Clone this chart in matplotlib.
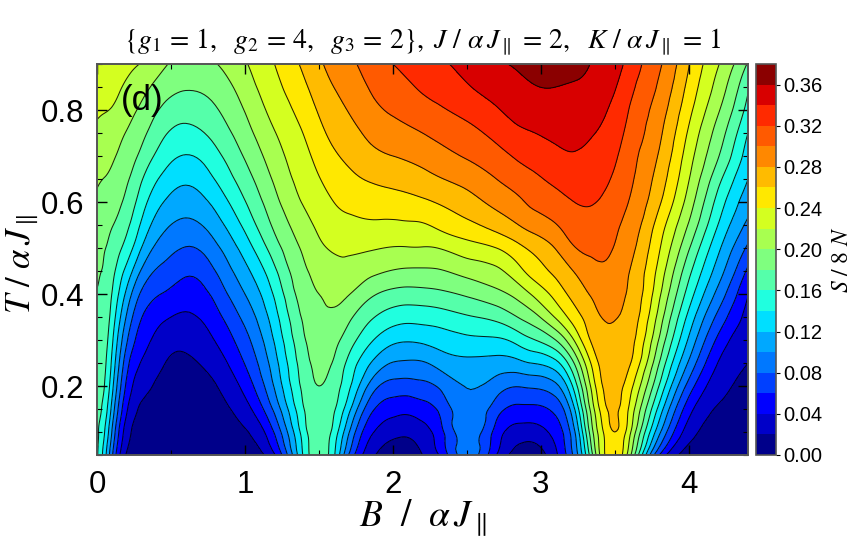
#!/usr/bin/env python
import numpy as np
import matplotlib
matplotlib.use('Agg')
import matplotlib.pyplot as plt
import matplotlib.tri as mtri
from matplotlib.colors import ListedColormap

b_vals = [0, 0.05, 0.1, 0.15, 0.2, 0.3, 0.45, 0.6, 0.8, 1.0, 1.2, 1.4, 1.5, 1.6, 1.7, 1.85, 2.0,
          2.1, 2.2, 2.3, 2.5, 2.7, 2.85, 2.93, 3.1, 3.25, 3.35, 3.42, 3.5, 3.6, 3.8, 4.0, 4.2, 4.4]
t_vals = [0.05, 0.1, 0.15, 0.2, 0.25, 0.3, 0.35, 0.4, 0.45, 0.5, 0.55, 0.6, 0.65, 0.7, 0.75, 0.8, 0.85, 0.9]
# one row per entry of b_vals
s_cols = [
    [.162, .163, .165, .167, .170, .173, .176, .179, .183, .188, .192, .197, .202, .209, .216, .223, .228, .233],
    [.130, .141, .152, .160, .164, .168, .172, .175, .178, .181, .186, .192, .1995, .206, .214, .221, .227, .232],
    [.085, .100, .115, .128, .137, .145, .153, .160, .168, .175, .181, .189, .196, .203, .211, .219, .226, .230],
    [.043, .058, .074, .088, .100, .112, .125, .138, .150, .164, .175, .183, .190, .197, .205, .214, .222, .228],
    [.018, .030, .043, .056, .068, .083, .098, .115, .134, .152, .165, .175, .183, .191, .199, .208, .217, .225],
    [.004, .009, .017, .028, .039, .050, .061, .077, .098, .120, .137, .150, .162, .175, .186, .196, .207, .219],
    [.001, .003, .008, .014, .021, .030, .043, .059, .074, .090, .105, .120, .135, .150, .163, .176, .190, .203],
    [.0005, .002, .006, .011, .017, .025, .037, .050, .064, .079, .095, .110, .124, .139, .154, .168, .182, .193],
    [.002, .006, .012, .019, .029, .041, .053, .066, .080, .095, .111, .126, .141, .154, .167, .178, .188, .199],
    [.009, .018, .032, .047, .061, .073, .086, .100, .114, .129, .145, .159, .171, .182, .192, .201, .210, .218],
    [.038, .062, .085, .102, .112, .122, .132, .143, .156, .171, .184, .194, .203, .211, .219, .227, .234, .240],
    [.145, .152, .160, .167, .172, .178, .184, .191, .197, .204, .213, .222, .229, .235, .241, .249, .257, .264],
    [.172, .174, .177, .180, .185, .190, .195, .200, .207, .216, .224, .231, .239, .246, .254, .262, .269, .276],
    [.144, .153, .163, .170, .178, .186, .197, .204, .214, .222, .232, .240, .248, .257, .265, .272, .280, .288],
    [.080, .103, .127, .145, .155, .170, .185, .201, .212, .224, .235, .245, .255, .264, .272, .281, .288, .295],
    [.026, .044, .066, .093, .120, .143, .163, .184, .205, .222, .237, .249, .262, .274, .285, .294, .302, .309],
    [.007, .027, .048, .072, .099, .125, .150, .174, .199, .219, .236, .252, .266, .280, .292, .303, .313, .320],
    [.005, .025, .046, .071, .097, .122, .147, .172, .197, .219, .237, .254, .269, .283, .296, .307, .317, .325],
    [.020, .032, .051, .074, .098, .124, .148, .173, .197, .219, .238, .257, .273, .287, .300, .312, .323, .331],
    [.037, .048, .061, .081, .106, .128, .150, .175, .198, .220, .244, .261, .278, .292, .305, .317, .327, .336],
    [.090, .092, .095, .101, .115, .135, .158, .183, .207, .231, .255, .272, .287, .302, .314, .326, .338, .347],
    [.040, .052, .069, .090, .112, .137, .166, .194, .216, .240, .268, .285, .300, .313, .326, .338, .349, .358],
    [.011, .031, .055, .081, .115, .148, .181, .208, .234, .255, .280, .296, .311, .323, .336, .347, .354, .363],
    [.008, .030, .055, .083, .120, .157, .190, .220, .246, .263, .287, .303, .315, .327, .339, .349, .358, .367],
    [.036, .048, .066, .095, .134, .180, .222, .247, .265, .281, .299, .312, .325, .335, .345, .353, .360, .369],
    [.100, .114, .136, .163, .194, .231, .255, .271, .284, .301, .311, .321, .329, .338, .345, .352, .358, .367],
    [.180, .198, .213, .229, .246, .264, .272, .283, .294, .304, .313, .321, .328, .334, .341, .347, .353, .358],
    [.234, .239, .251, .261, .267, .273, .281, .289, .297, .304, .312, .318, .324, .331, .337, .342, .346, .350],
    [.256, .260, .264, .268, .272, .276, .281, .287, .293, .299, .304, .311, .317, .323, .329, .335, .341, .346],
    [.207, .225, .236, .248, .262, .268, .273, .277, .280, .287, .293, .299, .304, .308, .314, .319, .326, .333],
    [.060, .105, .133, .159, .180, .198, .212, .224, .233, .242, .251, .263, .271, .278, .284, .290, .297, .303],
    [.012, .030, .048, .072, .097, .117, .134, .151, .166, .182, .198, .211, .221, .229, .237, .246, .254, .261],
    [.002, .009, .018, .028, .039, .055, .074, .093, .110, .124, .139, .152, .166, .181, .191, .202, .212, .221],
    [.000, .004, .008, .013, .020, .026, .033, .041, .056, .076, .095, .109, .120, .130, .140, .153, .163, .178],
]
s_levels = np.arange(0, 0.381, 0.02)
cbar_ticks = [0, 0.04, 0.08, 0.12, 0.16, 0.20, 0.24, 0.28, 0.32, 0.36]
band_colors = ['#00008a', '#0000c8', '#0000ff', '#0040ff', '#0078ff', '#00a8ff', '#00dfff', '#20ffdf', '#55ffaa',
               '#7fff7f', '#a8ff50', '#d4ff20', '#ffe800', '#ffbb00', '#ff8800', '#ff5a00', '#ff2a00', '#d80000',
               '#8b0000']

plt.rcParams['font.family'] = ['Liberation Sans', 'DejaVu Sans']
plt.rcParams['mathtext.fontset'] = 'stix'

W, H = 862, 548
fig = plt.figure(figsize=(W / 100, H / 100), dpi=100)
ax = fig.add_axes([97 / W, (H - 455) / H, 651 / W, 391 / H])
cax = fig.add_axes([756 / W, (H - 455) / H, 20 / W, 391 / H])

s = np.array(s_cols).T
bb, tt = np.meshgrid(b_vals, t_vals)
nt, nb = s.shape
z = s.ravel()
# split each grid cell along the diagonal that follows the contours
cells = []
for i in range(nt - 1):
    for j in range(nb - 1):
        p = i * nb + j
        q = p + nb
        if abs(z[p] - z[q + 1]) <= abs(z[p + 1] - z[q]):
            cells += [[p, p + 1, q + 1], [p, q + 1, q]]
        else:
            cells += [[p, p + 1, q], [p + 1, q + 1, q]]
triang = mtri.Triangulation(bb.ravel(), tt.ravel(), np.array(cells))
refiner = mtri.UniformTriRefiner(triang)
tri_fine, s_fine = refiner.refine_field(z, subdiv=3, triinterpolator=mtri.CubicTriInterpolator(triang, z))
s_fine = np.clip(s_fine, 0, 0.379)

cmap = ListedColormap(band_colors)
cf = ax.tricontourf(tri_fine, s_fine, levels=s_levels, cmap=cmap, vmin=0, vmax=0.38)
ax.tricontour(tri_fine, s_fine, levels=s_levels[1:], colors='k', linewidths=0.75, alpha=0.85)

ax.set_xlim(0, 4.4)
ax.set_ylim(0.05, 0.9)
ax.set_xticks([0, 1, 2, 3, 4])
ax.set_xticks([0.5, 1.5, 2.5, 3.5], minor=True)
ax.set_yticks([0.2, 0.4, 0.6, 0.8])
ax.set_yticks(np.arange(0.05, 0.91, 0.05), minor=True)
ax.set_yticklabels(['0.2', '0.4', '0.6', '0.8'])
ax.tick_params(which='major', direction='in', top=True, right=True, length=7, width=1, labelsize=22.5, pad=9)
ax.tick_params(axis='x', which='major', pad=11)
ax.tick_params(which='minor', direction='in', top=True, right=True, length=3.5, width=0.8)
for sp in ax.spines.values():
    sp.set_color('#555555')
    sp.set_linewidth(1.4)

ax.text(0.16, 0.82, '(d)', fontsize=25, color='k', va='center', ha='left')
ax.set_title(r'$\{g_1\,=\,1,\ \ g_2\,=\,4,\ \ g_3\,=\,2\},\ J\ /\ \alpha\,J_{\parallel}\,=\,2,\ '
             r'\ K\ /\ \alpha\,J_{\parallel}\,=\,1$', fontsize=20, pad=11)
ax.set_xlabel(r'$B\ \ /\ \ \alpha\,J_{\parallel}$', fontsize=27, labelpad=-2)
ax.set_ylabel(r'$T\ /\ \alpha\,J_{\parallel}$', fontsize=25)
ax.yaxis.set_label_coords(-0.086, 0.488)

cb = fig.colorbar(cf, cax=cax, ticks=cbar_ticks, format='%.2f')
cb.ax.tick_params(labelsize=14.5, length=3, width=0.8, pad=2)
cb.outline.set_edgecolor('#555555')
cb.outline.set_linewidth(1.2)
cb.ax.minorticks_off()
cb.set_label(r'$S\ /\ 8\ N$', fontsize=17, labelpad=6)

fig.savefig('out.png', dpi=100)
